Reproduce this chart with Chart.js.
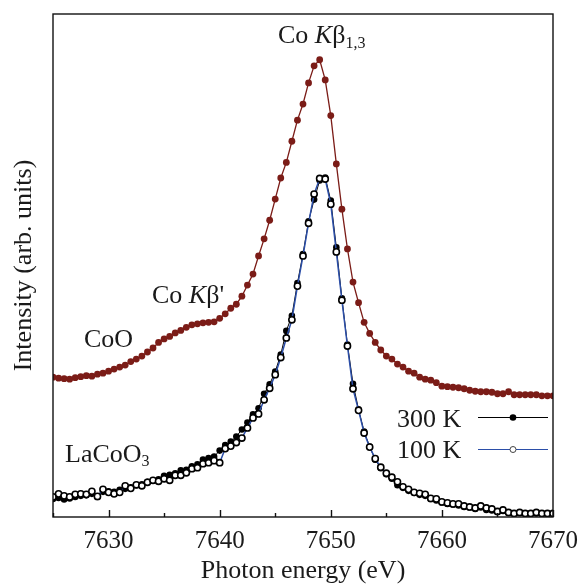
<!DOCTYPE html>
<html>
<head>
<meta charset="utf-8">
<script src="https://cdn.jsdelivr.net/npm/chart.js@4/dist/chart.umd.min.js"></script>
<style>
  html, body { margin: 0; padding: 0; background: #fff; }
  #wrap { width: 587px; height: 587px; }
</style>
</head>
<body>
<div id="wrap"><canvas id="c" width="587" height="587"></canvas></div>
<script>
// Photon energy grid (eV)
const energy = [
  7625.0,7625.5,7626.0,7626.5,7627.0,7627.5,7628.0,7628.5,7629.0,7629.5,
  7630.0,7630.5,7631.0,7631.5,7632.0,7632.5,7633.0,7633.5,7634.0,7634.5,
  7635.0,7635.5,7636.0,7636.5,7637.0,7637.5,7638.0,7638.5,7639.0,7639.5,
  7640.0,7640.5,7641.0,7641.5,7642.0,7642.5,7643.0,7643.5,7644.0,7644.5,
  7645.0,7645.5,7646.0,7646.5,7647.0,7647.5,7648.0,7648.5,7649.0,7649.5,
  7650.0,7650.5,7651.0,7651.5,7652.0,7652.5,7653.0,7653.5,7654.0,7654.5,
  7655.0,7655.5,7656.0,7656.5,7657.0,7657.5,7658.0,7658.5,7659.0,7659.5,
  7660.0,7660.5,7661.0,7661.5,7662.0,7662.5,7663.0,7663.5,7664.0,7664.5,
  7665.0,7665.5,7666.0,7666.5,7667.0,7667.5,7668.0,7668.5,7669.0,7669.5,
  7670.0
];

// CoO (offset upward)
const coo = [
  27.8,27.6,27.5,27.4,27.7,27.9,28.1,28.0,28.4,28.6,
  29.0,29.4,29.8,30.2,30.9,31.4,32.0,32.8,33.6,34.7,
  35.4,35.9,36.6,37.1,37.7,38.2,38.4,38.6,38.7,38.8,
  39.5,40.4,41.5,42.3,43.9,46.1,48.3,51.9,55.3,59.0,
  63.2,67.4,70.5,74.7,78.9,82.1,86.3,89.7,90.9,86.9,
  79.8,70.2,61.2,53.3,46.7,42.6,38.7,36.5,34.7,33.2,
  32.0,31.4,30.4,29.8,29.0,28.6,27.8,27.4,27.2,26.7,
  26.0,25.9,25.8,25.7,25.5,25.2,25.0,24.9,24.9,24.8,
  24.5,24.5,24.9,24.3,24.3,24.3,24.3,24.3,24.1,24.1,
  24.1
];

// LaCoO3, 300 K (filled)
const laco300 = [
  3.6,3.8,3.5,3.7,4.0,4.2,4.3,4.6,4.0,5.0,
  5.1,5.0,5.4,5.6,5.9,6.3,6.5,7.0,7.2,7.5,
  8.2,8.4,8.7,9.3,9.4,10.1,10.5,11.4,11.7,12.0,
  13.2,14.3,15.0,16.0,17.4,18.8,20.4,21.6,24.5,26.4,
  28.9,32.3,37.0,40.0,46.5,52.3,58.8,63.1,66.9,67.5,
  62.9,53.6,43.5,34.3,26.5,21.4,17.0,14.0,11.4,9.7,
  8.5,7.6,6.3,5.8,5.2,4.8,4.4,4.2,3.6,3.3,
  2.9,2.6,2.5,2.3,2.0,1.9,1.6,1.9,1.4,1.3,
  1.0,1.2,0.8,0.7,0.8,0.7,0.6,0.7,0.6,0.6,
  0.6
];

// LaCoO3, 100 K (open)
const laco100 = [
  4.0,4.6,4.2,4.0,4.5,4.6,4.5,5.1,4.1,5.5,
  4.9,4.6,4.9,6.2,5.7,6.4,6.2,6.9,7.3,7.1,
  7.6,7.3,8.3,8.3,8.8,9.6,9.8,10.6,10.8,11.2,
  10.8,13.6,14.1,14.8,15.7,17.7,19.7,20.5,23.3,25.6,
  28.3,31.7,35.6,39.2,45.9,51.9,58.4,64.2,67.3,67.2,
  62.2,52.7,43.1,34.0,25.5,21.2,16.7,13.9,11.6,9.9,
  8.7,7.9,7.0,6.0,5.5,4.9,4.7,4.5,3.7,3.6,
  3.0,2.8,2.6,2.6,2.2,2.0,1.8,2.2,1.8,1.6,
  1.1,1.4,0.9,0.7,0.9,0.7,0.7,0.9,0.7,0.7,
  0.7
];

const xTickValues = [7630, 7640, 7650, 7660, 7670];
const seriesNames = ['CoO', '300 K', '100 K'];

const FONT = '"Liberation Serif", "Times New Roman", serif';
const TXT = '#1a1a1a';
const RED = '#7b1c17';
const BLUE = '#2b4ea8';

const pts = arr => energy.map((e, i) => ({ x: e, y: arr[i] }));

const framePlugin = {
  id: 'frame',
  afterDatasetsDraw(chart) {
    const { ctx, chartArea: a } = chart;
    const xs = chart.scales.x;
    ctx.save();
    ctx.strokeStyle = '#111';
    ctx.lineWidth = 1.4;
    ctx.beginPath();
    for (const t of xs.ticks) {
      const px = Math.round(xs.getPixelForValue(t.value)) + 0.5;
      const len = (t.value % 10 === 0) ? 7 : 4;
      ctx.moveTo(px, a.bottom);
      ctx.lineTo(px, a.bottom - len);
    }
    ctx.stroke();
    ctx.strokeRect(a.left, a.top, a.right - a.left, a.bottom - a.top);
    ctx.restore();
  }
};

const annotPlugin = {
  id: 'annot',
  afterDraw(chart) {
    const ctx = chart.ctx;
    ctx.save();
    ctx.fillStyle = TXT;
    ctx.textBaseline = 'alphabetic';
    ctx.textAlign = 'left';
    function run(x, y, parts) {
      for (const p of parts) {
        ctx.font = (p.i ? 'italic ' : '') + (p.s || 26) + 'px ' + FONT;
        ctx.fillText(p.t, x, y + (p.dy || 0));
        x += ctx.measureText(p.t).width;
      }
    }
    run(278, 43, [{ t: 'Co ' }, { t: 'K', i: true }, { t: 'β' }, { t: '1,3', s: 16, dy: 5 }]);
    run(152, 303, [{ t: 'Co ' }, { t: 'K', i: true }, { t: 'β\'' }]);
    run(84, 347, [{ t: 'CoO' }]);
    run(65, 462, [{ t: 'LaCoO' }, { t: '3', s: 16, dy: 4 }]);
    // legend
    run(397, 427, [{ t: seriesNames[1] }]);
    run(397, 458, [{ t: seriesNames[2] }]);
    ctx.lineWidth = 1.2;
    ctx.strokeStyle = '#000';
    ctx.beginPath(); ctx.moveTo(478, 417.5); ctx.lineTo(548, 417.5); ctx.stroke();
    ctx.fillStyle = '#000';
    ctx.beginPath(); ctx.arc(513, 417.5, 3.3, 0, Math.PI * 2); ctx.fill();
    ctx.strokeStyle = BLUE;
    ctx.beginPath(); ctx.moveTo(478, 449.5); ctx.lineTo(548, 449.5); ctx.stroke();
    ctx.fillStyle = '#fff';
    ctx.strokeStyle = '#444';
    ctx.lineWidth = 1;
    ctx.beginPath(); ctx.arc(513, 449.5, 3, 0, Math.PI * 2); ctx.fill(); ctx.stroke();
    ctx.restore();
  }
};

new Chart(document.getElementById('c'), {
  type: 'line',
  data: {
    datasets: [
      {
        label: seriesNames[2], data: pts(laco100), order: 0,
        borderColor: BLUE, borderWidth: 1.5,
        pointRadius: 3.1, pointBorderWidth: 1.6,
        pointBorderColor: '#000', pointBackgroundColor: '#fff', tension: 0
      },
      {
        label: seriesNames[1], data: pts(laco300), order: 1,
        borderColor: '#000', borderWidth: 1,
        pointRadius: 3.3, pointBorderWidth: 0,
        pointBackgroundColor: '#000', tension: 0
      },
      {
        label: seriesNames[0], data: pts(coo), order: 2,
        borderColor: RED, borderWidth: 1.3,
        pointRadius: 3.4, pointBorderWidth: 0,
        pointBackgroundColor: RED, tension: 0
      }
    ]
  },
  options: {
    responsive: false,
    devicePixelRatio: 1,
    animation: false,
    layout: { padding: { top: 14, right: 27, left: 0, bottom: 0 } },
    plugins: { legend: { display: false }, tooltip: { enabled: false } },
    scales: {
      x: {
        type: 'linear', min: 7625, max: 7670,
        grid: { display: false, drawTicks: false },
        border: { display: false },
        ticks: {
          stepSize: 5, autoSkip: false, maxRotation: 0, padding: 9,
          color: TXT, font: { family: FONT, size: 25 },
          callback: v => (xTickValues.includes(v) ? String(v) : '')
        },
        title: {
          display: true, text: 'Photon energy (eV)', color: TXT,
          font: { family: FONT, size: 26 }, padding: { top: 0, bottom: 0 }
        },
        afterFit(s) { s.height = 70; }
      },
      y: {
        min: 0, max: 100,
        grid: { display: false, drawTicks: false },
        border: { display: false },
        ticks: { display: false },
        title: {
          display: true, text: 'Intensity (arb. units)', color: TXT,
          font: { family: FONT, size: 26 }, padding: { top: 9, bottom: 0 }
        },
        afterFit(s) { s.width = 53; }
      }
    }
  },
  plugins: [framePlugin, annotPlugin]
});
</script>
</body>
</html>
